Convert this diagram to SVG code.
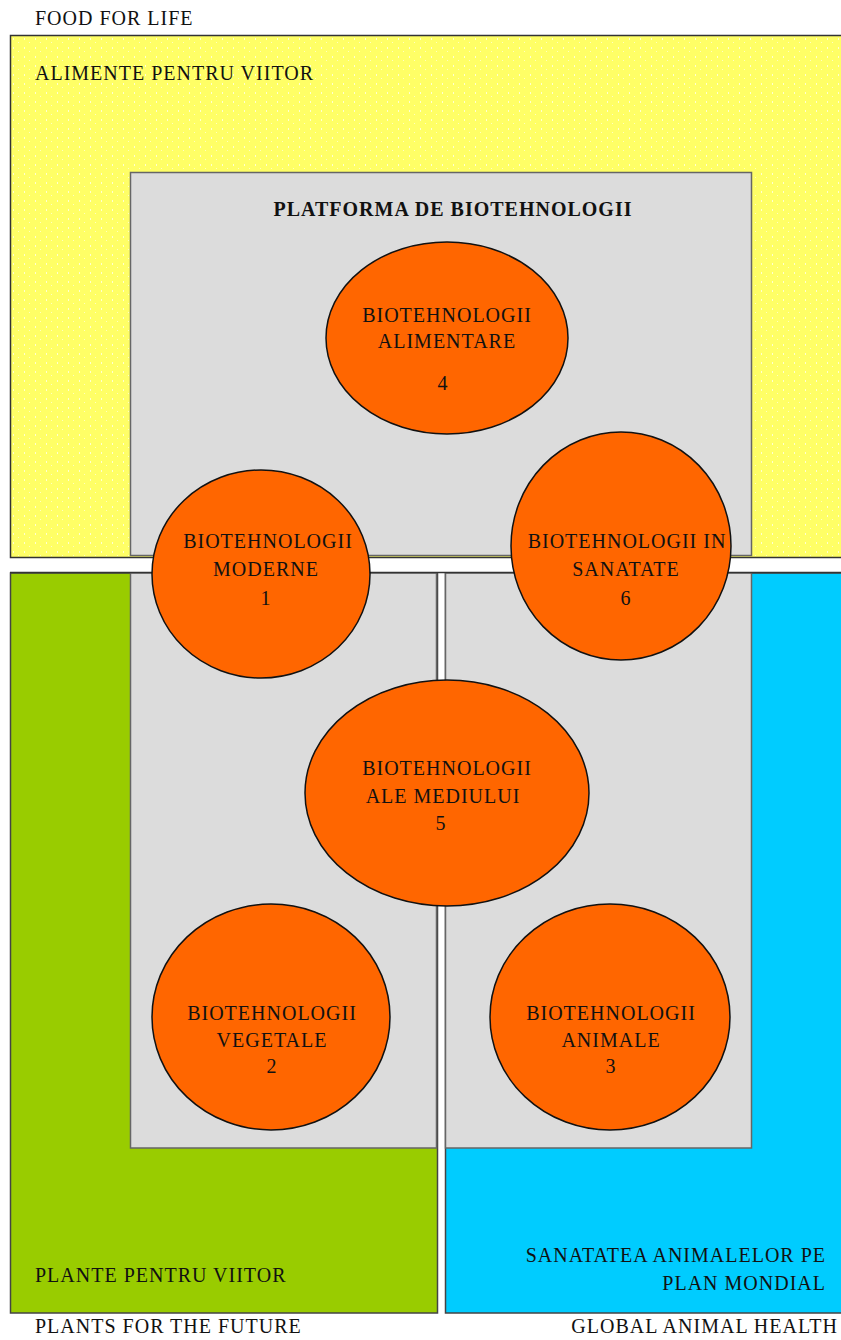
<svg xmlns="http://www.w3.org/2000/svg" width="841" height="1340" viewBox="0 0 841 1340">
<style>
text{font-family:"Liberation Serif","Times New Roman",serif;font-size:20px;fill:#111;letter-spacing:1px}
.c{text-anchor:middle}
.r{text-anchor:end}
.b{font-weight:bold}
.node ellipse{fill:#FF6600;stroke:#111;stroke-width:1.5}
.gray{fill:#DCDCDC;stroke:#666;stroke-width:1.5}
</style>
<defs>
<pattern id="dots" width="11" height="9" patternUnits="userSpaceOnUse">
<rect width="11" height="9" fill="#FFFF66"/>
<rect x="2" y="2" width="1" height="2" fill="#fff" opacity="0.7"/>
<rect x="7" y="6" width="1" height="1" fill="#fff" opacity="0.6"/>
</pattern>
</defs>
<rect width="841" height="1340" fill="#fff"/>
<g id="region-food">
<rect x="10.5" y="35.5" width="840" height="522" fill="url(#dots)" stroke="#333" stroke-width="1.5"/>
<text x="35" y="80">ALIMENTE PENTRU VIITOR</text>
</g>
<g id="region-plants">
<rect x="10.5" y="573" width="427" height="740" fill="#99CC00" stroke="#444" stroke-width="1.5"/>
<text x="35" y="1282">PLANTE PENTRU VIITOR</text>
</g>
<g id="region-animal">
<rect x="445.5" y="573" width="400" height="740" fill="#00CCFF" stroke="#444" stroke-width="1.5"/>
<text class="r" x="826" y="1262">SANATATEA ANIMALELOR PE</text>
<text class="r" x="826" y="1290">PLAN MONDIAL</text>
</g>
<g id="platform">
<rect class="gray" x="130.5" y="172.5" width="621" height="383"/>
<rect class="gray" x="130.5" y="573" width="306" height="575"/>
<rect class="gray" x="445.5" y="573" width="306" height="575"/>
<text class="b c" x="453" y="216">PLATFORMA DE BIOTEHNOLOGII</text>
</g>
<line x1="10" y1="572.5" x2="841" y2="572.5" stroke="#333" stroke-width="1.5"/>
<g id="connectors"></g>
<g id="node4" class="node">
<ellipse cx="447" cy="338" rx="121" ry="96"/>
<text class="c" x="447" y="322">BIOTEHNOLOGII</text>
<text class="c" x="447" y="348">ALIMENTARE</text>
<text class="c" x="443" y="390">4</text>
</g>
<g id="node1" class="node">
<ellipse cx="261" cy="574" rx="109" ry="104"/>
<text class="c" x="268" y="548">BIOTEHNOLOGII</text>
<text class="c" x="266" y="576">MODERNE</text>
<text class="c" x="266" y="605">1</text>
</g>
<g id="node6" class="node">
<ellipse cx="621" cy="546" rx="110" ry="114"/>
<text class="c" x="627" y="548">BIOTEHNOLOGII IN</text>
<text class="c" x="626" y="576">SANATATE</text>
<text class="c" x="626" y="605">6</text>
</g>
<g id="node5" class="node">
<ellipse cx="447" cy="793" rx="142" ry="113"/>
<text class="c" x="447" y="775">BIOTEHNOLOGII</text>
<text class="c" x="443" y="803">ALE MEDIULUI</text>
<text class="c" x="441" y="830">5</text>
</g>
<g id="node2" class="node">
<ellipse cx="271" cy="1017" rx="119" ry="113"/>
<text class="c" x="272" y="1020">BIOTEHNOLOGII</text>
<text class="c" x="272" y="1047">VEGETALE</text>
<text class="c" x="272" y="1073">2</text>
</g>
<g id="node3" class="node">
<ellipse cx="610" cy="1017" rx="120" ry="113"/>
<text class="c" x="611" y="1020">BIOTEHNOLOGII</text>
<text class="c" x="611" y="1047">ANIMALE</text>
<text class="c" x="611" y="1073">3</text>
</g>
<g id="captions">
<text x="35" y="25">FOOD FOR LIFE</text>
<text x="35" y="1333">PLANTS FOR THE FUTURE</text>
<text class="r" x="838" y="1333">GLOBAL ANIMAL HEALTH</text>
</g>
</svg>
